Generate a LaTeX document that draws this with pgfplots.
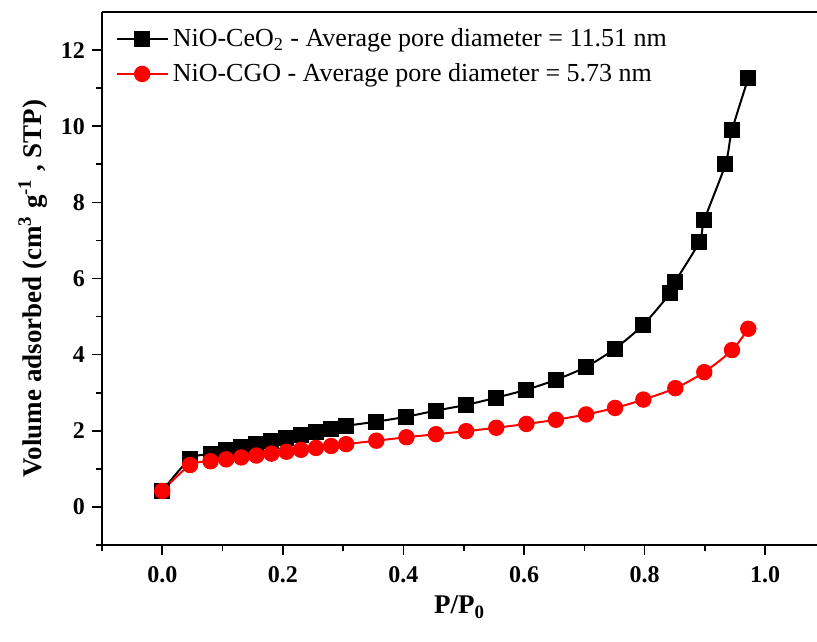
\documentclass[border=0pt]{standalone}
\usepackage{fontspec}
\setmainfont{Liberation Serif}
\usepackage{pgfplots}
\pgfplotsset{compat=1.18}

\begin{document}
\begin{tikzpicture}
\begin{axis}[
  scale only axis, width=357.5pt, height=266.5pt,
  xmin=-0.1, xmax=1.086, ymin=-1, ymax=13,
  axis x line*=bottom, axis y line*=left,
  axis line style={line width=1pt},
  clip=false,
  tick align=outside,
  xtick={0,0.2,0.4,0.6,0.8,1}, ytick={0,2,4,6,8,10,12},
  minor xtick={-0.1,0.1,0.3,0.5,0.7,0.9},
  minor ytick={-1,1,3,5,7,9,11},
  major tick length=5pt, minor tick length=3pt,
  tick style={line width=0.8pt, black},
  /pgf/number format/assume math mode=true,
  xticklabel style={/pgf/number format/fixed, /pgf/number format/fixed zerofill,
                    /pgf/number format/precision=1, yshift=-2pt},
  tick label style={font=\fontsize{12}{14}\selectfont\bfseries},
  label style={font=\fontsize{13.5}{16}\selectfont\bfseries},
  xlabel={P/P\textsubscript{0}},
  ylabel={Volume adsorbed (cm\textsuperscript{3} g\textsuperscript{-1} , STP)},
  ylabel style={xshift=-5pt},
  legend style={draw=none, fill=none, at={(rel axis cs:0.01,0.985)}, anchor=north west,
                font=\fontsize{13}{15}\selectfont, row sep=3pt},
  legend cell align=left,
  legend image code/.code={\draw[mark repeat=2, mark phase=2]
     plot coordinates {(0cm,0cm) (0.45cm,0cm) (0.9cm,0cm)};},
]
\addplot[black, line width=1pt, smooth, mark=square*, mark size=3.5pt] coordinates {
  (0,0.42)(0.046,1.26)(0.080,1.39)(0.106,1.50)(0.131,1.58)(0.156,1.66)
  (0.181,1.74)(0.206,1.82)(0.230,1.89)(0.255,1.97)(0.280,2.05)(0.305,2.13)
  (0.355,2.24)(0.405,2.37)(0.454,2.53)(0.504,2.68)(0.554,2.87)(0.604,3.08)
  (0.653,3.34)(0.703,3.68)(0.751,4.16)(0.798,4.79)(0.842,5.61)(0.851,5.92)
  (0.891,6.97)(0.899,7.53)(0.934,9.00)(0.945,9.89)(0.972,11.26)
};
\addlegendentry{NiO-CeO\textsubscript{2} - Average pore diameter = 11.51 nm}
\addplot[red, line width=1pt, smooth, mark=*, mark size=3.6pt] coordinates {
  (0,0.42)(0.046,1.10)(0.080,1.20)(0.106,1.25)(0.131,1.30)(0.156,1.35)
  (0.181,1.40)(0.206,1.45)(0.230,1.50)(0.255,1.55)(0.280,1.60)(0.305,1.65)
  (0.355,1.74)(0.405,1.83)(0.454,1.91)(0.504,1.99)(0.554,2.08)(0.604,2.18)
  (0.653,2.29)(0.703,2.43)(0.751,2.60)(0.798,2.82)(0.851,3.12)(0.899,3.54)
  (0.945,4.12)(0.972,4.68)
};
\addlegendentry{NiO-CGO - Average pore diameter = 5.73 nm}
\draw[line width=1pt] (rel axis cs:0,1) -- (rel axis cs:1,1);
\coordinate (bl) at (rel axis cs:0,0);
\coordinate (tr) at (rel axis cs:1,1);
\end{axis}
\pgfresetboundingbox
\path ([shift={(-51pt,-48pt)}]bl) rectangle ([shift={(0pt,6pt)}]tr);
\end{tikzpicture}
\end{document}
